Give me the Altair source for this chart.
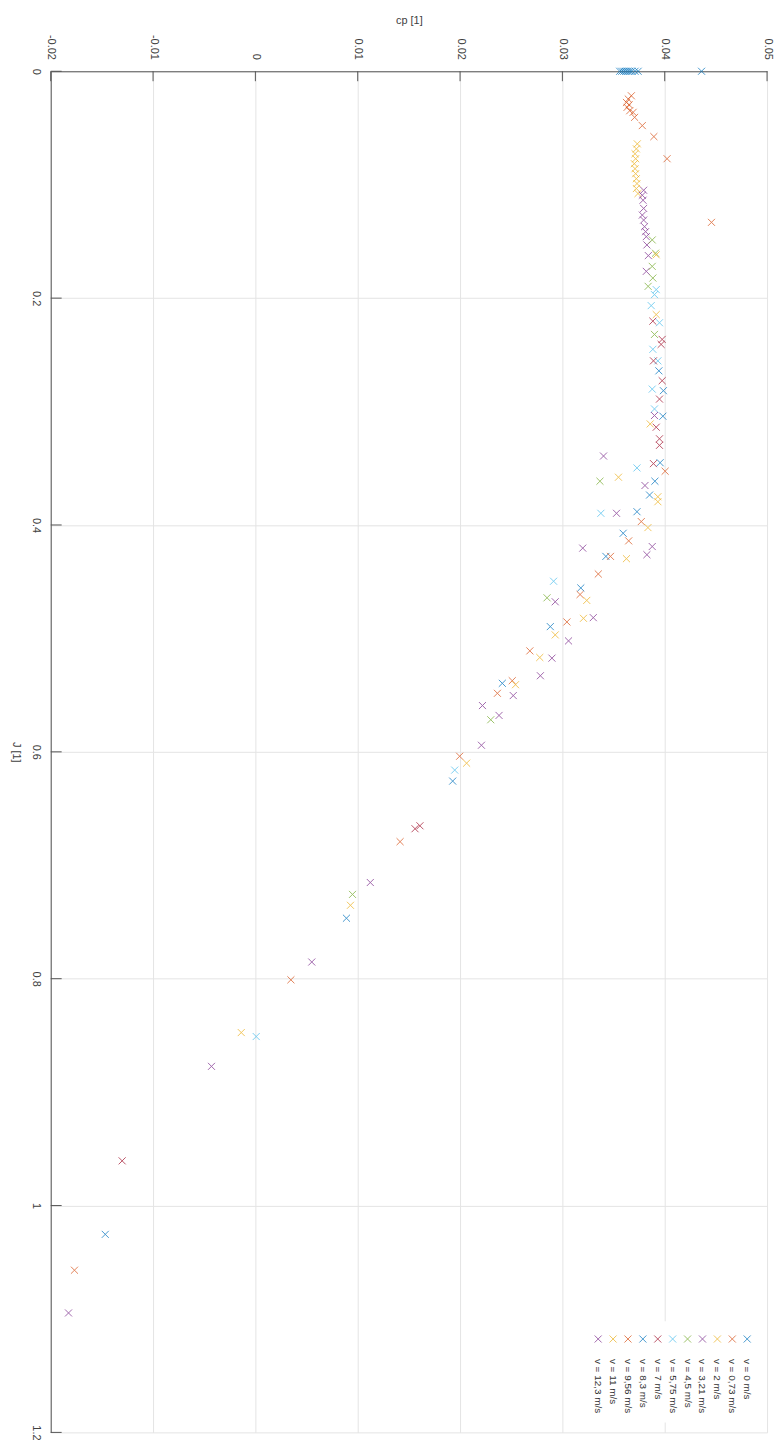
import altair as alt
import pandas as pd

# ---------------- data ----------------
speeds = ["v = 0 m/s", "v = 0,73 m/s", "v = 2 m/s", "v = 3,21 m/s", "v = 4,5 m/s",
          "v = 5,75 m/s", "v = 7 m/s", "v = 8,3 m/s", "v = 9,56 m/s", "v = 11 m/s",
          "v = 12,3 m/s"]
colors = ["#0072BD", "#D95319", "#EDB120", "#7E2F8E", "#77AC30", "#4DBEEE",
          "#A2142F", "#0072BD", "#D95319", "#EDB120", "#7E2F8E"]

J_v0 = [0.0, 0.0, 0.0, 0.0, 0.0, 0.0, 0.0, 0.0, 0.0, 0.0]
cp_v0 = [0.0356, 0.0358, 0.0360, 0.0362, 0.0364, 0.0366, 0.0368, 0.0371, 0.0374, 0.0436]

J_v073 = [0.0216, 0.0245, 0.0275, 0.0295, 0.0318, 0.0348, 0.0362, 0.0406, 0.0479, 0.0576, 0.0771, 0.1332]
cp_v073 = [0.03674, 0.03644, 0.03626, 0.03652, 0.03632, 0.03658, 0.03691, 0.03706, 0.03781, 0.03894, 0.04023, 0.04457]

J_v2 = [0.0640, 0.0684, 0.0727, 0.0771, 0.0815, 0.0859, 0.0903, 0.0947, 0.0990, 0.1034, 0.1078]
cp_v2 = [0.03732, 0.03723, 0.03710, 0.03716, 0.03703, 0.03710, 0.03716, 0.03723, 0.03729, 0.03723, 0.03739]

J_v321 = [0.1049, 0.1093, 0.1137, 0.1209, 0.1268, 0.1312, 0.1370, 0.1414, 0.1458, 0.1531, 0.1625, 0.1764]
cp_v321 = [0.03794, 0.03781, 0.03788, 0.03794, 0.03781, 0.03794, 0.03803, 0.03813, 0.03820, 0.03826, 0.03840, 0.03820]

J_v45 = [0.1487, 0.1604, 0.1720, 0.1823, 0.1896, 0.2320, 0.3614, 0.4642, 0.5717, 0.7257]
cp_v45 = [0.03878, 0.03910, 0.03878, 0.03884, 0.03838, 0.03900, 0.03367, 0.02850, 0.02300, 0.00949]

J_v575 = [0.1925, 0.1969, 0.2066, 0.2217, 0.2451, 0.2553, 0.2802, 0.2977, 0.3497, 0.3897, 0.4496, 0.6161, 0.8510]
cp_v575 = [0.03917, 0.03900, 0.03868, 0.03949, 0.03884, 0.03933, 0.03878, 0.03900, 0.03729, 0.03376, 0.02914, 0.01948, 0.00008]

J_v7 = [0.2203, 0.2364, 0.2408, 0.2553, 0.2728, 0.2890, 0.3138, 0.3240, 0.3298, 0.3459, 0.6652, 0.6678, 0.9606]
cp_v7 = [0.03884, 0.03975, 0.03965, 0.03890, 0.03975, 0.03949, 0.03917, 0.03949, 0.03949, 0.03890, 0.01608, 0.01560, -0.01302]

J_v83 = [0.2641, 0.2816, 0.3041, 0.3451, 0.3614, 0.3736, 0.3883, 0.4073, 0.4277, 0.4555, 0.4896, 0.5396, 0.6258, 0.7467, 1.0254]
cp_v83 = [0.03943, 0.03987, 0.03982, 0.03955, 0.03904, 0.03852, 0.03729, 0.03594, 0.03425, 0.03180, 0.02882, 0.02413, 0.01928, 0.00890, -0.01467]

J_v956 = [0.3526, 0.3970, 0.4140, 0.4277, 0.4432, 0.4613, 0.4855, 0.5110, 0.5373, 0.5484, 0.6039, 0.6792, 0.8010, 1.0570]
cp_v956 = [0.04004, 0.03771, 0.03648, 0.03470, 0.03351, 0.03173, 0.03044, 0.02682, 0.02510, 0.02365, 0.01996, 0.01414, 0.00347, -0.01768]

J_v11 = [0.1618, 0.2145, 0.3109, 0.3579, 0.3751, 0.3795, 0.4023, 0.4297, 0.4665, 0.4823, 0.4969, 0.5168, 0.5408, 0.6100, 0.7353, 0.8475]
cp_v11 = [0.03917, 0.03917, 0.03858, 0.03548, 0.03933, 0.03933, 0.03836, 0.03626, 0.03238, 0.03206, 0.02930, 0.02779, 0.02542, 0.02064, 0.00929, -0.00138]

J_v123 = [0.3035, 0.3392, 0.3652, 0.3897, 0.4190, 0.4204, 0.4262, 0.4677, 0.4817, 0.5022, 0.5174, 0.5329, 0.5504, 0.5592, 0.5679, 0.5942, 0.7152, 0.7853, 0.8773, 1.0947]
cp_v123 = [0.03900, 0.03402, 0.03807, 0.03529, 0.03878, 0.03199, 0.03826, 0.02930, 0.03302, 0.03060, 0.02898, 0.02785, 0.02520, 0.02219, 0.02381, 0.02209, 0.01123, 0.00551, -0.00429, -0.01826]

cp_ticks = [-0.02, -0.01, 0.0, 0.01, 0.02, 0.03, 0.04, 0.05]
J_ticks = [0.0, 0.2, 0.4, 0.6, 0.8, 1.0, 1.2]

series_J = [J_v0, J_v073, J_v2, J_v321, J_v45, J_v575, J_v7, J_v83, J_v956, J_v11, J_v123]
series_cp = [cp_v0, cp_v073, cp_v2, cp_v321, cp_v45, cp_v575, cp_v7, cp_v83, cp_v956, cp_v11, cp_v123]

rows = []
for name, js, cps in zip(speeds, series_J, series_cp):
    for j, c in zip(js, cps):
        rows.append({"series": name, "J": j, "cp": c})
df = pd.DataFrame(rows)
df_xt = pd.DataFrame({"t": cp_ticks})
df_yt = pd.DataFrame({"t": J_ticks})
df_leg = pd.DataFrame({"series": speeds, "i": list(range(len(speeds)))})

# ---------------- styling ----------------
FONT = "Liberation Sans"
AX = "#555555"
TXT = "#404040"
GRID = "#e4e4e4"
W, H = 721, 1370
XMARK = "M-1,-1L1,1M-1,1L1,-1"

cp_scale = alt.Scale(domain=[-0.02, 0.05], nice=False, zero=False)
J_scale = alt.Scale(domain=[0, 1.2], nice=False, zero=False, reverse=True)
color_scale = alt.Scale(domain=speeds, range=colors)

x_axis = alt.Axis(orient="top", values=cp_ticks, labelAngle=90, labelAlign="right",
                  labelBaseline="middle", labelPadding=12, ticks=False, tickSize=0,
                  labelExpr="replace(format(datum.value, '.2~f'), '\u2212', '-')",
                  domainColor=AX, gridColor=GRID, labelColor=TXT, labelFontSize=11,
                  title="cp [1]", titleX=W / 2, titleY=-51, titleAngle=0,
                  titleAlign="center", titleBaseline="middle", titleFontSize=11,
                  titleFontWeight="normal", titleColor=TXT, labelFlush=False,
                  labelOverlap=False)
y_axis = alt.Axis(orient="left", values=J_ticks, labelAngle=90, labelAlign="center",
                  labelBaseline="top", labelPadding=9, ticks=False, tickSize=0,
                  labelExpr="format(datum.value, '.1~f')",
                  domainColor=AX, gridColor=GRID, labelColor=TXT, labelFontSize=11,
                  title="J [1]", titleX=-29, titleY=H / 2, titleAngle=90,
                  titleAlign="center", titleBaseline="top", titleFontSize=11,
                  titleFontWeight="normal", titleColor=TXT, labelFlush=False,
                  labelOverlap=False)

points = alt.Chart(df).mark_point(shape=XMARK, filled=False, size=50, strokeWidth=1,
                                  opacity=0.72).encode(
    x=alt.X("cp:Q", scale=cp_scale, axis=x_axis),
    y=alt.Y("J:Q", scale=J_scale, axis=y_axis),
    color=alt.Color("series:N", scale=color_scale, legend=None),
)

xticks = alt.Chart(df_xt).mark_rule(color=AX, strokeWidth=1).encode(
    x=alt.X("t:Q", scale=cp_scale, axis=x_axis),
    y=alt.value(0), y2=alt.value(10),
)
yticks = alt.Chart(df_yt).mark_rule(color=AX, strokeWidth=1).encode(
    y=alt.Y("t:Q", scale=J_scale, axis=y_axis),
    x=alt.value(0), x2=alt.value(11),
)

main = alt.layer(points, xticks, yticks)

leg_x = alt.X("i:Q", scale=alt.Scale(domain=[0, 10], range=[701, 551], nice=False, zero=False),
              axis=None)
leg_box = alt.Chart(df_leg.head(1)).mark_rect(fill="white", stroke=None).encode(
    x=alt.value(541), x2=alt.value(717), y=alt.value(1258), y2=alt.value(1360),
)
leg_pts = alt.Chart(df_leg).mark_point(shape=XMARK, filled=False, size=50, strokeWidth=1,
                                      opacity=0.72).encode(
    x=leg_x, y=alt.value(1276),
    color=alt.Color("series:N", scale=color_scale, legend=None),
)
leg_txt = alt.Chart(df_leg).mark_text(angle=90, align="left", baseline="middle",
                                     fontSize=10, font=FONT, color="#333333").encode(
    x=leg_x, y=alt.value(1296), text="series:N",
)
legend = alt.layer(leg_box, leg_pts, leg_txt)

chart = alt.layer(main, legend).resolve_scale(x="independent").properties(
    width=W, height=H,
    autosize=alt.AutoSizeParams(type="none"),
    padding={"left": 43, "top": 59, "right": 8, "bottom": 9},
).configure_view(stroke=None).configure_axis(
    labelFont=FONT, titleFont=FONT, grid=True, gridWidth=1, domainWidth=1,
).configure_text(font=FONT)

chart.save("out.html", embed_options={"renderer": "svg", "actions": False})
